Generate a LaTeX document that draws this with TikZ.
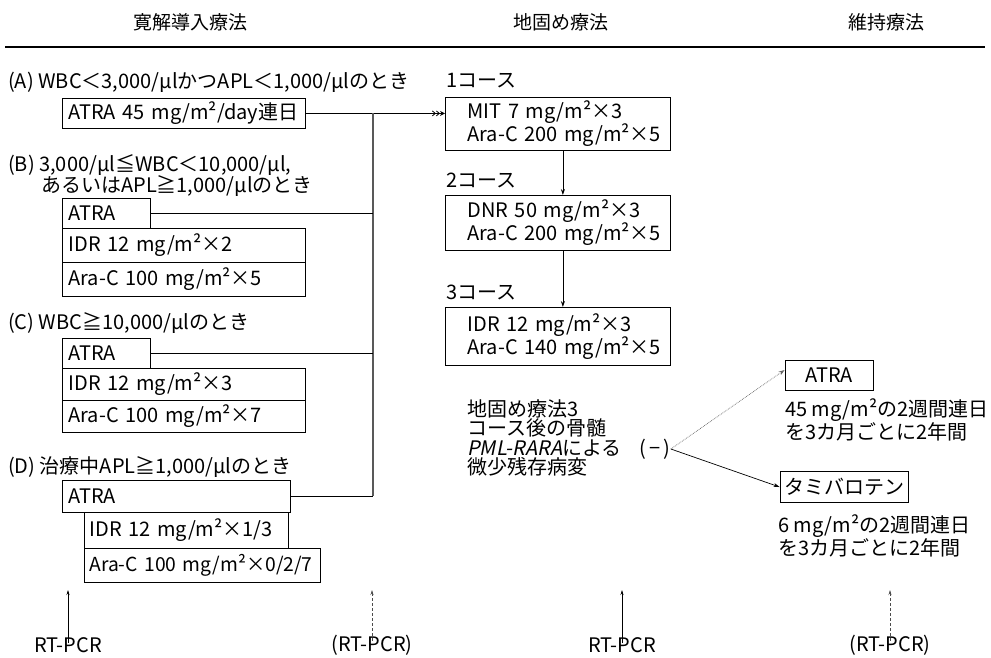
\documentclass[tikz,border=0pt]{standalone}
\usepackage{fontspec}
\setmainfont{Noto Sans CJK JP}
\newfontfamily\slfont[FakeSlant=0.2]{Noto Sans CJK JP}
\usetikzlibrary{arrows.meta}
\begin{document}
\begin{tikzpicture}[x=1pt,y=-1pt,
  every node/.style={font=\fontsize{20}{21}\selectfont, inner sep=0pt},
  lbl/.style={anchor=west},
  hdr/.style={font=\fontsize{19}{22}\selectfont},
  bx/.style={draw, line width=0.8pt, anchor=north west, inner xsep=6pt, inner ysep=0pt, align=left},
  ln/.style={line width=0.8pt},
  gln/.style={line width=1.1pt, draw=black!65},
  tip/.style={-{Stealth[length=6pt,width=4pt]}},
  rtarrow/.style={line width=0.6pt, -{Stealth[length=5pt,width=3pt]}},
]
\useasboundingbox (0,0) rectangle (991,657);
\fill[white] (0,0) rectangle (991,657);

% headers
\node[hdr] (h1) at (190,22) {寛解導入療法};
\node[hdr] (h2) at (561,22) {地固め療法};
\node[hdr] (h3) at (886,22) {維持療法};
\coordinate (hl1) at (5,47);
\coordinate (hl2) at (985,47);
\draw[line width=1.3pt] (hl1) -- (hl2);

% (A)
\node[lbl] (ta) at (8,82) {(A) WBC＜3,000/µlかつAPL＜1,000/µlのとき};
\node[bx, text width=231pt, minimum height=30pt] (a1) at (62,98) {ATRA 45 mg/m²/day連日};

% (B)
\node[lbl, align=left] (tb) at (8,176) {(B) 3,000/µl≦WBC＜10,000/µl,\\\hspace*{33pt}あるいはAPL≧1,000/µlのとき};
\node[bx, text width=76pt, minimum height=30pt] (b1) at (62,198) {ATRA};
\node[bx, text width=231pt, minimum height=34pt] (b2) at (62,228) {IDR 12 mg/m²×2};
\node[bx, text width=231pt, minimum height=34pt] (b3) at (62,262) {Ara-C 100 mg/m²×5};

% (C)
\node[lbl] (tc) at (8,323) {(C) WBC≧10,000/µlのとき};
\node[bx, text width=76pt, minimum height=30pt] (c1) at (62,338) {ATRA};
\node[bx, text width=231pt, minimum height=32pt] (c2) at (62,368) {IDR 12 mg/m²×3};
\node[bx, text width=231pt, minimum height=32pt] (c3) at (62,400) {Ara-C 100 mg/m²×7};

% (D)
\node[lbl] (td) at (8,467) {(D) 治療中APL≧1,000/µlのとき};
\node[bx, text width=216pt, minimum height=32pt] (d1) at (62,480) {ATRA};
\node[bx, text width=194pt, minimum height=36pt, inner xsep=5pt] (d2) at (84,512) {IDR 12 mg/m²×1/3};
\node[bx, text width=226pt, minimum height=34pt, inner xsep=5pt, font=\fontsize{19.3}{21}\selectfont] (d3) at (84,548) {\mbox{Ara-C 100 mg/m²×0/2/7}};

% consolidation
\node[lbl] (k1) at (446,81) {1コース};
\node[bx, text width=213pt, minimum height=53pt, font=\fontsize{20}{23}\selectfont] (m1) at (445,97) {\hspace*{16pt}MIT 7 mg/m²×3\\\hspace*{16pt}Ara-C 200 mg/m²×5};
\node[lbl] (k2) at (446,181) {2コース};
\node[bx, text width=213pt, minimum height=55pt, font=\fontsize{20}{23}\selectfont] (m2) at (445,195) {\hspace*{16pt}DNR 50 mg/m²×3\\\hspace*{16pt}Ara-C 200 mg/m²×5};
\node[lbl] (k3) at (446,293) {3コース};
\node[bx, text width=213pt, minimum height=58pt, font=\fontsize{20}{23}\selectfont] (m3) at (445,307) {\hspace*{16pt}IDR 12 mg/m²×3\\\hspace*{16pt}Ara-C 140 mg/m²×5};

% connectors induction -> consolidation
\coordinate (j) at (373,113);
\draw[ln, -{Straight Barb[length=3pt,width=5pt]Straight Barb[length=3pt,width=5pt]Stealth[length=5pt,width=5pt]}] (a1.east) -- (a1.east -| m1.west);
\draw[gln] (j) -- (j |- d1.east);
\draw[ln] (b1.east) -- (b1.east -| j);
\draw[ln] (c1.east) -- (c1.east -| j);
\draw[ln] (d1.east) -- (d1.east -| j);

\draw[ln, tip] ([xshift=5pt]m1.south) -- ([xshift=5pt]m2.north);
\draw[ln, tip] ([xshift=5pt]m2.south) -- ([xshift=5pt]m3.north);

% MRD
\node[anchor=west, align=left, font=\fontsize{20}{19.5}\selectfont] (mrd) at (467,438) {地固め療法3\\コース後の骨髄\\{\slfont PML-RARA}による\\微少残存病変};
\node (neg) at (655,449) {(\,−\,)};

% maintenance
\node[draw, line width=0.8pt, minimum width=88pt, minimum height=30pt] (atra) at (829,375) {ATRA};
\node[anchor=west, align=left, font=\fontsize{20}{21}\selectfont] (atx) at (785,420) {45 mg/m²の2週間連日\\を3カ月ごとに2年間};
\node[draw, line width=0.8pt, minimum width=128pt, minimum height=31pt] (tami) at (844,487) {タミバロテン};
\node[anchor=west, align=left, font=\fontsize{20}{21}\selectfont] (ttx) at (778,536) {6 mg/m²の2週間連日\\を3カ月ごとに2年間};

\draw[line width=0.7pt, densely dotted, draw=black!60, tip] (neg.east) -- ([yshift=5pt]atra.west);
\draw[line width=0.7pt, tip] (neg.east) -- (tami.west);

% RT-PCR
\node (r1) at (68,645) {RT-PCR};
\node (r2) at (372,645) {(RT-PCR)};
\node (r3) at (622,645) {RT-PCR};
\node (r4) at (890,645) {(RT-PCR)};
\coordinate (r1t) at (68,590);
\coordinate (r2t) at (372,590);
\coordinate (r3t) at (622,590);
\coordinate (r4t) at (890,590);
\draw[rtarrow] ([yshift=-6pt]r1.north) -- (r1t);
\draw[rtarrow, densely dashed, draw=black!70] ([yshift=-6pt]r2.north) -- (r2t);
\draw[rtarrow] ([yshift=-6pt]r3.north) -- (r3t);
\draw[rtarrow, densely dashed, draw=black!70] ([yshift=-6pt]r4.north) -- (r4t);
\end{tikzpicture}
\end{document}
